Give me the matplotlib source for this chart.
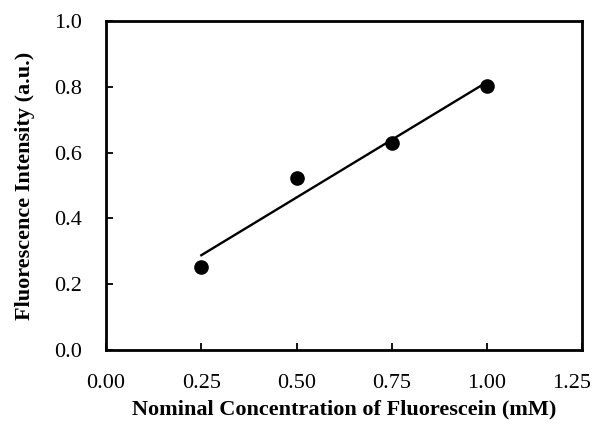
import numpy as np
import matplotlib
matplotlib.use('Agg')
import matplotlib.pyplot as plt
from matplotlib.transforms import ScaledTranslation

conc = [0.25, 0.50, 0.75, 1.00]  # nominal concentration (mM)
intensity = [0.252, 0.523, 0.629, 0.802]  # fluorescence intensity (a.u.)
xticks = [0.00, 0.25, 0.50, 0.75, 1.00, 1.25]
yticks = [0.0, 0.2, 0.4, 0.6, 0.8, 1.0]

plt.rcParams['font.family'] = ['Liberation Serif', 'DejaVu Serif']

fig = plt.figure(figsize=(5.96, 4.32), dpi=100)
ax = fig.add_axes([0.178, 0.19, 0.799, 0.761])

# least squares line through the points
slope, icpt = np.polyfit(conc, intensity, 1)
xs = np.array([conc[0], conc[-1]])
ax.plot(xs, slope * xs + icpt, color='black', lw=1.7)
ax.plot(conc, intensity, 'o', color='black', markersize=9.5)

ax.set_xlim(0, 1.25)
ax.set_ylim(0, 1.0)
ax.set_xticks(xticks)
ax.set_yticks(yticks)
ax.set_xticklabels(['%.2f' % v for v in xticks])
ax.set_yticklabels(['%.1f' % v for v in yticks])
ax.tick_params(direction='in', length=5, width=1.3, labelsize=16)
ax.tick_params(axis='x', pad=17)
ax.tick_params(axis='y', pad=17)
for s in ax.spines.values():
    s.set_linewidth(2)

# last x label sits a bit left of its tick, so it stays inside the picture
lbl = ax.get_xticklabels()[-1]
lbl.set_transform(lbl.get_transform() + ScaledTranslation(-8 / 72, 0, fig.dpi_scale_trans))

ax.set_xlabel('Nominal Concentration of Fluorescein (mM)', fontsize=16, fontweight='bold', labelpad=5)
ax.set_ylabel('Fluorescence Intensity (a.u.)', fontsize=16, fontweight='bold', labelpad=14)

fig.savefig('out.png', dpi=100)
